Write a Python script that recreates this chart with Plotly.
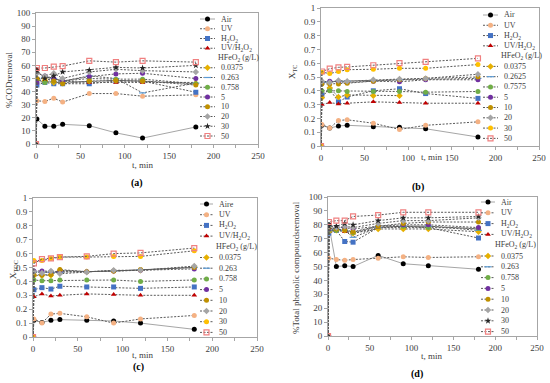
import plotly.graph_objects as go

W, H = 550, 383
FONT = "Liberation Serif"

# ---------------- data ----------------
t_min = [0, 1, 10, 20, 30, 60, 90, 120, 180]

names_a = ["Air", "UV", "H<sub>2</sub>O<sub>2</sub>", "UV/H<sub>2</sub>O<sub>2</sub>",
           "0.0375", "0.263", "0.758", "5", "10", "20", "30", "50"]
names_b = ["Air", "UV", "H<sub>2</sub>O<sub>2</sub>", "UV/H<sub>2</sub>O<sub>2</sub>",
           "0.0375", "0.2625", "0.7575", "5", "10", "20", "30", "50"]
names_c = ["Aire", "UV", "H<sub>2</sub>O<sub>2</sub>", "UV/H<sub>2</sub>O<sub>2</sub>",
           "0.0375", "0.263", "0.758", "5", "10", "20", "30", "50"]
names_d = names_a
legend_header = "HFeO<sub>2</sub> (g/L)"

# (a) %COD removal
cod_air = [0, 19, 13.5, 13.5, 15, 14, 8.5, 4.5, 13]
cod_uv = [0, 33, 32.5, 35, 32, 38.5, 38.5, 36.5, 37.5]
cod_h2o2 = [0, 45, 47, 46, 46, 46, 48, 48, 39.5]
cod_uvh2o2 = [0, 57, 49, 50, 48, 47, 47, 47, 47]
cod_00375 = [0, 49, 48, 47, 47, 48, 48.5, 48, 46]
cod_0263 = [0, 50, 51, 50, 48, 52, 50, 39, 46.5]
cod_0758 = [0, 48, 47, 48, 48, 50, 49.5, 49.5, 46]
cod_5 = [0, 47, 52, 50, 48, 51.5, 53.5, 54, 50]
cod_10 = [0, 50, 50, 48, 46, 48, 48.5, 48, 45]
cod_20 = [0, 54, 52, 54, 50, 55, 57, 56, 55]
cod_30 = [0, 56, 50, 52, 55, 56.5, 58.5, 58, 60]
cod_50 = [0, 58, 58, 59, 59.5, 63.5, 62.5, 63.5, 62.5]

# (b) X_TC
tc_air = [0, 0.15, 0.13, 0.145, 0.15, 0.14, 0.135, 0.125, 0.065]
tc_uv = [0, 0.155, 0.13, 0.185, 0.19, 0.165, 0.12, 0.15, 0.175]
tc_h2o2 = [0, 0.37, 0.41, 0.32, 0.355, 0.40, 0.415, 0.38, 0.345]
tc_uvh2o2 = [0, 0.30, 0.315, 0.305, 0.31, 0.32, 0.315, 0.31, 0.31]
tc_00375 = [0, 0.35, 0.42, 0.355, 0.37, 0.365, 0.365, None, None]
tc_02625 = [0, 0.46, 0.465, 0.47, 0.47, 0.475, 0.48, 0.485, 0.49]
tc_07575 = [0, 0.40, 0.40, 0.40, 0.395, 0.395, 0.395, 0.39, 0.395]
tc_5 = [0, 0.465, 0.47, 0.465, 0.46, 0.47, 0.465, 0.48, 0.48]
tc_10 = [0, 0.45, 0.45, 0.45, 0.455, 0.47, 0.48, 0.49, 0.50]
tc_20 = [0, 0.47, 0.46, 0.475, 0.47, 0.48, 0.485, 0.49, 0.52]
tc_30 = [0, 0.535, 0.525, 0.54, 0.553, 0.556, 0.563, 0.563, 0.59]
tc_50 = [0, 0.54, 0.56, 0.57, 0.573, 0.585, 0.60, 0.61, 0.635]

# (c) X_TOC
toc_air = [0, 0.12, 0.105, 0.12, 0.125, 0.12, 0.115, 0.10, 0.055]
toc_uv = [0, 0.13, 0.10, 0.165, 0.17, 0.145, 0.10, 0.13, 0.155]
toc_h2o2 = [0, 0.34, 0.355, 0.345, 0.365, 0.36, 0.36, 0.35, 0.36]
toc_uvh2o2 = [0, 0.29, 0.31, 0.295, 0.30, 0.31, 0.305, 0.30, 0.30]
toc_00375 = [0, 0.44, 0.445, 0.445, 0.48, 0.47, 0.475, 0.48, 0.505]
toc_0263 = [0, 0.47, 0.465, 0.465, 0.465, 0.47, 0.475, 0.485, 0.50]
toc_0758 = [0, 0.41, 0.405, 0.405, 0.41, 0.41, 0.41, 0.40, 0.41]
toc_5 = [0, 0.475, 0.475, 0.47, 0.47, 0.47, 0.475, 0.48, 0.49]
toc_10 = [0, 0.45, 0.445, 0.45, 0.485, 0.47, 0.475, 0.485, 0.50]
toc_20 = [0, 0.47, 0.46, 0.475, 0.455, 0.465, 0.48, 0.48, 0.51]
toc_30 = [0, 0.55, 0.55, 0.565, 0.575, 0.575, 0.58, 0.58, 0.62]
toc_50 = [0, 0.53, 0.56, 0.565, 0.575, 0.58, 0.60, 0.605, 0.64]

# (d) % total phenolic compounds removal
ph_air = [0, 80, 50, 50.5, 50, 58, 52, 50.5, 48]
ph_uv = [0, 56, 55, 54.5, 55, 56, 57, 56.5, 57]
ph_h2o2 = [0, 74, 76, 68, 67.5, 78, 78, 78, 70.5]
ph_uvh2o2 = [0, 75, 76, 75, 74, 78, 79, 79, 77]
ph_00375 = [0, 75, 76, 76, 74, 77, 77, 77, 75]
ph_0263 = [0, 76, 77, 76, 71, 78, 79, 79, 76]
ph_0758 = [0, 76, 76, 77, 74.5, 79, 79, 78, 77.5]
ph_5 = [0, 77, 78, 78, 77, 79, 80, 80, 78]
ph_10 = [0, 78, 77, 76, 75, 79, 81, 82, 82]
ph_20 = [0, 79, 78, 79, 78, 81, 83, 83, 85]
ph_30 = [0, 79, 79, 81, 80, 83, 85, 85, 86]
ph_50 = [0, 82, 83, 83, 86, 87, 89, 89, 89]

x_ticks = [0, 50, 100, 150, 200, 250]

# ---------------- styles ----------------
DOT = "#595959"
DOTDASH = "2px,1.5px"
base_styles = [
    dict(color="#000000", symbol="circle", lc="#a6a6a6", dash="solid"),
    dict(color="#f4b183", symbol="circle", lc=DOT, dash=DOTDASH),
    dict(color="#4472c4", symbol="square", lc=DOT, dash=DOTDASH),
    dict(color="#c00000", symbol="triangle-up", lc=DOT, dash=DOTDASH),
    dict(color="#e6b000", symbol="diamond", lc=DOT, dash=DOTDASH),
    dict(color="#5b9bd5", symbol="line-ew-open", lc=DOT, dash=DOTDASH),
    dict(color="#70ad47", symbol="circle", lc=DOT, dash=DOTDASH),
    dict(color="#7030a0", symbol="circle", lc=DOT, dash=DOTDASH),
    dict(color="#bf9000", symbol="circle", lc=DOT, dash=DOTDASH),
    dict(color="#a5a5a5", symbol="diamond", lc=DOT, dash=DOTDASH),
    dict(color="#262626", symbol="star", lc=DOT, dash=DOTDASH),
    dict(color="#f08080", symbol="square-open", lc=DOT, dash=DOTDASH),
]
yellow30 = dict(color="#ffc000", symbol="circle", lc=DOT, dash=DOTDASH)
MS = 5
LEG_FS = 8


def styles_for(panel):
    s = [dict(d) for d in base_styles]
    if panel in ("b", "c"):
        s[10] = dict(yellow30)
    return s


def px_x(p):
    return p / W


def px_y(p):
    return 1 - p / H


panels = [
    dict(key="a", xa="x", ya="y", names=names_a,
         vals=[cod_air, cod_uv, cod_h2o2, cod_uvh2o2, cod_00375, cod_0263,
               cod_0758, cod_5, cod_10, cod_20, cod_30, cod_50],
         box=(36, 258, 13, 144), yr=[0, 100], dt=10,
         ytitle="%CODremoval", ytpos=(9, 80), xtpos=(143, 165), lab="(a)", labpos=(137, 183),
         leg=(200, 215, 219, 19, 9.75, 216)),
    dict(key="b", xa="x2", ya="y2", names=names_b,
         vals=[tc_air, tc_uv, tc_h2o2, tc_uvh2o2, tc_00375, tc_02625,
               tc_07575, tc_5, tc_10, tc_20, tc_30, tc_50],
         box=(321, 539, 8, 146), yr=[0, 1], dt=0.1,
         ytitle="X<sub>TC</sub>", ytpos=(292, 72), xtpos=(432, 157), lab="(b)", labpos=(418, 187),
         leg=(483, 498, 502, 15, 10.28, 499)),
    dict(key="c", xa="x3", ya="y3", names=names_c,
         vals=[toc_air, toc_uv, toc_h2o2, toc_uvh2o2, toc_00375, toc_0263,
               toc_0758, toc_5, toc_10, toc_20, toc_30, toc_50],
         box=(33, 257, 198, 337), yr=[0, 1], dt=0.1,
         ytitle="X<sub>TOC</sub>", ytpos=(13, 270), xtpos=(143, 355), lab="(c)", labpos=(138, 367),
         leg=(200, 213, 217, 204, 10.7, 214)),
    dict(key="d", xa="x4", ya="y4", names=names_d,
         vals=[ph_air, ph_uv, ph_h2o2, ph_uvh2o2, ph_00375, ph_0263,
               ph_0758, ph_5, ph_10, ph_20, ph_30, ph_50],
         box=(328, 537, 197, 336), yr=[0, 100], dt=10,
         ytitle="%Total phenolic compoundsremoval", ytpos=(296, 268), xtpos=(432, 356), lab="(d)",
         labpos=(417, 374),
         leg=(481, 495, 499, 202, 10.8, 493)),
]

fig = go.Figure()
annotations = []
layout_axes = {}

for i, p in enumerate(panels):
    st = styles_for(p["key"])
    for k, (nm, v) in enumerate(zip(p["names"], p["vals"])):
        s = st[k]
        mk = dict(color=s["color"], symbol=s["symbol"], size=MS,
                  line=dict(width=1.2 if "open" in s["symbol"] else 0, color=s["color"]))
        fig.add_trace(go.Scatter(
            x=t_min, y=v, xaxis=p["xa"], yaxis=p["ya"], mode="lines+markers",
            line=dict(color=s["lc"], width=1, dash=s["dash"]), marker=mk,
            showlegend=False, name=nm, connectgaps=False))
    # axes
    x0, x1, y0, y1 = p["box"]
    axn = "" if i == 0 else str(i + 1)
    common = dict(showline=True, mirror=True, linecolor="#a6a6a6", linewidth=1,
                  ticks="outside", ticklen=3, tickcolor="#a6a6a6", showgrid=False,
                  zeroline=False, automargin=False,
                  tickfont=dict(family=FONT, size=9, color="#404040"))
    layout_axes["xaxis" + axn] = dict(common, domain=[px_x(x0), px_x(x1)], range=[0, 250],
                                      tickvals=x_ticks, anchor="y" + axn,
                                      minor=dict(dtick=25, ticks="outside", ticklen=3,
                                                 tickcolor="#a6a6a6"))
    layout_axes["yaxis" + axn] = dict(common, domain=[px_y(y1), px_y(y0)], range=p["yr"],
                                      dtick=p["dt"], tick0=0, anchor="x" + axn)
    # titles
    annotations.append(dict(text=p["ytitle"], x=px_x(p["ytpos"][0]), y=px_y(p["ytpos"][1]),
                            xref="paper", yref="paper", textangle=-90, showarrow=False,
                            xanchor="center", yanchor="middle",
                            font=dict(family=FONT, size=9, color="#404040")))
    annotations.append(dict(text="t, min", x=px_x(p["xtpos"][0]), y=px_y(p["xtpos"][1]),
                            xref="paper", yref="paper", showarrow=False,
                            xanchor="center", yanchor="middle",
                            font=dict(family=FONT, size=9, color="#404040")))
    annotations.append(dict(text="<b>" + p["lab"] + "</b>", x=px_x(p["labpos"][0]),
                            y=px_y(p["labpos"][1]), xref="paper", yref="paper",
                            xanchor="center", yanchor="middle",
                            showarrow=False, font=dict(family=FONT, size=10, color="#000000")))
    # manual legend (drawn on pixel overlay axis)
    lx0, lx1, ltx, ly0, lstep, hx = p["leg"]
    rows = list(range(4)) + [None] + list(range(4, 12))
    for r, k in enumerate(rows):
        yy = ly0 + r * lstep
        if k is None:
            annotations.append(dict(text=legend_header, x=px_x(hx), y=px_y(yy), xref="paper",
                                    yref="paper", xanchor="left", yanchor="middle",
                                    showarrow=False,
                                    font=dict(family=FONT, size=LEG_FS, color="#404040")))
            continue
        s = st[k]
        fig.add_trace(go.Scatter(x=[lx0, lx1], y=[yy, yy], xaxis="x5", yaxis="y5", mode="lines",
                                 line=dict(color=s["lc"], width=1, dash=s["dash"]),
                                 showlegend=False, hoverinfo="skip"))
        fig.add_trace(go.Scatter(x=[(lx0 + lx1) / 2], y=[yy], xaxis="x5", yaxis="y5",
                                 mode="markers",
                                 marker=dict(color=s["color"], symbol=s["symbol"], size=MS,
                                             line=dict(width=1.2 if "open" in s["symbol"] else 0,
                                                       color=s["color"])),
                                 showlegend=False, hoverinfo="skip"))
        annotations.append(dict(text=p["names"][k], x=px_x(ltx), y=px_y(yy), xref="paper",
                                yref="paper", xanchor="left", yanchor="middle", showarrow=False,
                                font=dict(family=FONT, size=LEG_FS, color="#404040")))

layout_axes["xaxis5"] = dict(domain=[0, 1], range=[0, W], visible=False, anchor="y5")
layout_axes["yaxis5"] = dict(domain=[0, 1], range=[H, 0], visible=False, anchor="x5")

fig.update_layout(
    template="none",
    width=W, height=H, margin=dict(l=0, r=0, t=0, b=0, pad=0),
    paper_bgcolor="white", plot_bgcolor="rgba(0,0,0,0)",
    showlegend=False, annotations=annotations,
    font=dict(family=FONT, size=9, color="#404040"),
    **layout_axes)

fig.write_html("out.html", config={"displayModeBar": False},
               post_script="document.body.style.margin='0px';document.body.style.overflow='hidden';")
